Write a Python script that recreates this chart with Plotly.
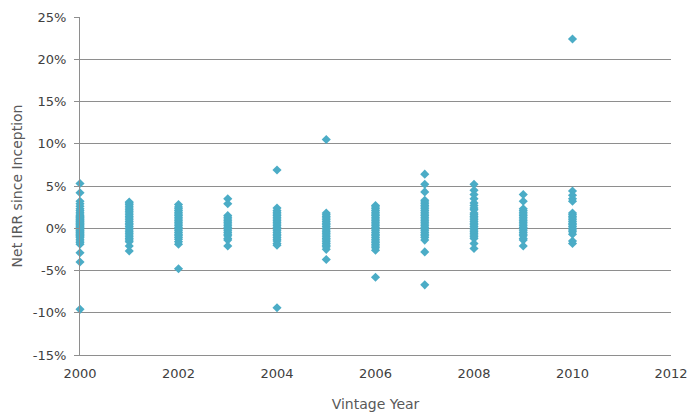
import plotly.graph_objects as go

# Net IRR since inception (%), grouped by vintage year
irr_2000 = [5.3, 4.2, 3.2, 2.9, 2.6, 2.3, 2.1, 1.9, 1.7, 1.5, 1.4, 1.3, 1.2, 1.1, 1.0, 0.9, 0.8,
            0.7, 0.6, 0.5, 0.4, 0.3, 0.2, 0.1, 0.0, -0.1, -0.2, -0.3, -0.4, -0.5, -0.6, -0.7,
            -0.8, -0.9, -1.0, -1.1, -1.3, -1.5, -1.7, -1.9, -2.9, -4.0, -9.6]
irr_2001 = [3.1, 3.0, 2.8, 2.6, 2.4, 2.2, 2.0, 1.8, 1.6, 1.4, 1.2, 1.0, 0.8, 0.6, 0.4, 0.2, 0.0,
            -0.2, -0.4, -0.6, -0.8, -1.0, -1.2, -1.4, -1.6, -2.1, -2.7]
irr_2002 = [2.8, 2.5, 2.3, 2.1, 1.9, 1.7, 1.5, 1.3, 1.1, 0.9, 0.7, 0.5, 0.3, 0.1, -0.1, -0.3,
            -0.5, -0.7, -0.9, -1.1, -1.3, -1.6, -1.9, -4.8]
irr_2003 = [3.5, 2.9, 1.5, 1.3, 1.1, 0.9, 0.7, 0.5, 0.3, 0.1, -0.1, -0.3, -0.5, -0.7, -0.9,
            -1.2, -1.4, -2.1]
irr_2004 = [6.9, 2.4, 2.1, 1.9, 1.7, 1.5, 1.3, 1.1, 0.9, 0.7, 0.5, 0.3, 0.1, -0.1, -0.3, -0.5,
            -0.7, -0.9, -1.1, -1.3, -1.5, -1.8, -2.0, -9.4]
irr_2005 = [10.5, 1.8, 1.6, 1.4, 1.2, 1.0, 0.8, 0.6, 0.4, 0.2, 0.0, -0.2, -0.4, -0.6, -0.8, -1.0,
            -1.2, -1.4, -1.6, -1.8, -2.0, -2.2, -2.5, -3.7]
irr_2006 = [2.7, 2.5, 2.3, 2.1, 1.9, 1.7, 1.5, 1.3, 1.1, 0.9, 0.7, 0.5, 0.3, 0.1, -0.1, -0.3,
            -0.5, -0.7, -0.9, -1.1, -1.3, -1.5, -1.7, -1.9, -2.1, -2.3, -2.6, -5.8]
irr_2007 = [6.4, 5.2, 4.3, 3.3, 3.1, 2.9, 2.7, 2.5, 2.3, 2.1, 1.9, 1.7, 1.5, 1.3, 1.1, 0.9, 0.7,
            0.5, 0.3, 0.1, -0.1, -0.3, -0.5, -0.7, -0.9, -1.1, -1.4, -2.8, -6.7]
irr_2008 = [5.2, 4.5, 4.0, 3.5, 3.0, 2.7, 2.4, 2.2, 1.8, 1.6, 1.4, 1.2, 1.0, 0.8, 0.6, 0.4, 0.2,
            0.0, -0.2, -0.4, -0.6, -0.8, -1.0, -1.2, -1.8, -2.4]
irr_2009 = [4.0, 3.2, 2.3, 2.1, 1.9, 1.7, 1.5, 1.3, 1.1, 0.9, 0.7, 0.5, 0.3, 0.1, -0.1, -0.3,
            -0.5, -0.7, -0.9, -1.2, -1.4, -2.1]
irr_2010 = [22.4, 4.4, 3.9, 3.5, 3.2, 1.8, 1.6, 1.4, 1.2, 1.0, 0.8, 0.6, 0.4, 0.2, 0.0, -0.2,
            -0.4, -0.7, -1.5, -1.8]

vintages = [2000, 2001, 2002, 2003, 2004, 2005, 2006, 2007, 2008, 2009, 2010]
series = [irr_2000, irr_2001, irr_2002, irr_2003, irr_2004, irr_2005, irr_2006,
          irr_2007, irr_2008, irr_2009, irr_2010]

x_ticks = [2000, 2002, 2004, 2006, 2008, 2010, 2012]
y_ticks = [-15, -10, -5, 0, 5, 10, 15, 20, 25]

xs, ys = [], []
for yr, vals in zip(vintages, series):
    xs += [yr] * len(vals)
    ys += vals

FONT = "'DejaVu Sans', sans-serif"
GRID = "#8e8e8e"

fig = go.Figure(go.Scatter(
    x=xs, y=ys, mode="markers", cliponaxis=False,
    marker=dict(symbol="diamond", size=7, color="#4BACC6", line=dict(width=0)),
    hoverinfo="x+y", showlegend=False,
))

fig.update_layout(
    width=691, height=412,
    margin=dict(l=80, r=20, t=17, b=57),
    paper_bgcolor="white", plot_bgcolor="white",
    font=dict(family=FONT, size=13, color="#404040"),
)
fig.update_xaxes(
    range=[2000, 2012], tickvals=x_ticks, ticktext=[str(v) for v in x_ticks],
    showgrid=False, zeroline=False, showline=True, linecolor=GRID, linewidth=1,
    ticks="", ticklabelstandoff=6, automargin=False,
    title=dict(text="Vintage Year", font=dict(size=14, color="#595959"), standoff=19),
)
fig.update_yaxes(
    range=[-15, 25], tickvals=y_ticks, ticktext=[f"{v}%" for v in y_ticks],
    showgrid=True, gridcolor=GRID, gridwidth=1, zeroline=False,
    showline=True, linecolor=GRID, linewidth=1,
    ticks="outside", ticklen=5, tickcolor=GRID, ticklabelstandoff=5, automargin=False,
    title=dict(text="Net IRR since Inception", font=dict(size=14, color="#595959"), standoff=6),
)

fig.write_html("out.html")
